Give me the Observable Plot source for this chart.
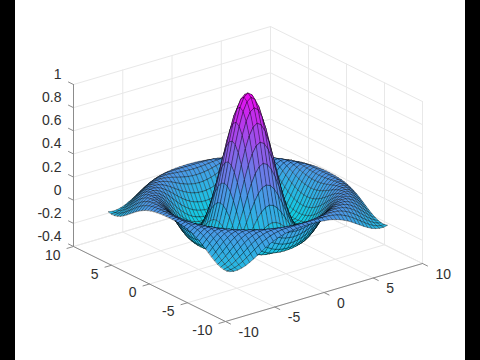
<!DOCTYPE html>
<html>
<head>
<meta charset="utf-8">
<script src="https://cdn.jsdelivr.net/npm/d3@7"></script>
<script src="https://cdn.jsdelivr.net/npm/@observablehq/plot@0.6"></script>
<style>
html,body{margin:0;padding:0;background:#000;width:480px;height:360px;overflow:hidden}
#chart{margin-left:15px;width:450px;height:360px;background:#fff}
svg{display:block}
</style>
</head>
<body>
<div id="chart"></div>
<script>
const xTicks = [-10, -5, 0, 5, 10];
const yTicks = [-10, -5, 0, 5, 10];
const zTicks = [-0.4, -0.2, 0, 0.2, 0.4, 0.6, 0.8, 1];
const gridCoords = [0, .4, .8, 1.2, 1.6, 2, 2.4, 2.8, 3.2, 3.6, 4, 4.4, 4.8, 5.2, 5.6, 6, 6.4, 6.8, 7.2, 7.6, 8];
// Surface heights over one eighth of the (symmetric) mesh: row i, column j <= i.
const surfaceHeights = [
[1],
[.974,.947],
[.897,.872,.800],
[.777,.754,.688,.585],
[.625,.605,.546,.455,.340],
[.455,.437,.387,.311,.214,.109],
[.281,.268,.228,.165,.089,.006,-.073],
[.120,.109,.078,.032,-.026,-.085,-.140,-.184],
[-.018,-.026,-.047,-.080,-.118,-.156,-.189,-.210,-.216],
[-.123,-.127,-.140,-.160,-.181,-.200,-.213,-.216,-.207,-.182],
[-.189,-.191,-.197,-.205,-.212,-.216,-.214,-.201,-.178,-.146,-.103],
[-.216,-.216,-.216,-.216,-.213,-.205,-.191,-.168,-.137,-.099,-.056,-.010],
[-.208,-.207,-.203,-.196,-.186,-.170,-.148,-.119,-.085,-.047,-.006,.035,.071],
[-.170,-.168,-.162,-.152,-.137,-.117,-.092,-.063,-.029,.006,.042,.074,.100,.119],
[-.113,-.111,-.103,-.092,-.076,-.056,-.031,-.004,.026,.055,.081,.104,.120,.128,.126],
[-.047,-.044,-.038,-.027,-.012,.006,.027,.050,.073,.094,.111,.123,.128,.125,.114,.095],
[.018,.020,.026,.034,.047,.061,.077,.093,.107,.119,.126,.128,.124,.112,.093,.069,.040],
[.073,.074,.078,.084,.092,.101,.111,.119,.125,.128,.126,.120,.107,.089,.066,.038,.009,-.020],
[.110,.111,.113,.116,.120,.123,.127,.128,.126,.122,.112,.099,.080,.058,.033,.005,-.021,-.046,-.067],
[.127,.128,.128,.128,.128,.127,.125,.119,.112,.101,.086,.068,.047,.023,-.002,-.026,-.049,-.068,-.082,-.090],
[.124,.123,.122,.120,.116,.112,.105,.096,.084,.069,.052,.032,.010,-.012,-.034,-.054,-.071,-.083,-.090,-.091,-.084]
];

// Oblique 3-D view: data (x, y, z) to the plane that the x and y scales read.
const view = {ox: 247.5, oy: 254.5, xx: 9.85, xy: -2.9, yx: -7.6, yy: -3.75, zy: -115.7, zBase: -0.4};
const px = d => view.ox + view.xx * d.x + view.yx * d.y;
const py = d => view.oy + view.xy * d.x + view.yy * d.y + view.zy * (d.z - view.zBase);

const idx = [...gridCoords.keys()].slice(1).reverse().map(i => -i).concat([...gridCoords.keys()]);
const coord = i => i < 0 ? -gridCoords[-i] : gridCoords[i];
const heightAt = (i, j) => {
  const a = Math.abs(i), b = Math.abs(j);
  return surfaceHeights[Math.max(a, b)][Math.min(a, b)];
};

// Quads in far-to-near order so nearer cells paint over farther ones.
const cells = [];
for (let a = 0; a < idx.length - 1; a++) for (let b = 0; b < idx.length - 1; b++) {
  cells.push({a, b, depth: -.527 * (coord(idx[a]) + coord(idx[a + 1])) - .687 * (coord(idx[b]) + coord(idx[b + 1]))});
}
cells.sort((p, q) => d3.ascending(p.depth, q.depth));
const quadRows = [];
cells.forEach((c, id) => {
  const tone = heightAt(idx[c.a], idx[c.b]);
  [[0, 0], [1, 0], [1, 1], [0, 1]].forEach(([u, v]) => {
    const i = idx[c.a + u], j = idx[c.b + v];
    quadRows.push({id, tone, x: coord(i), y: coord(j), z: heightAt(i, j)});
  });
});

const lo = view.zBase, hi = 1;
const xe = xTicks[0], xE = xTicks[4], ye = yTicks[0], yE = yTicks[4];
const seg = (id, a, b) => [{id, ...a}, {id, ...b}];
const grid = [];
xTicks.forEach((x, k) => {
  grid.push(...seg(`fx${k}`, {x, y: ye, z: lo}, {x, y: yE, z: lo}));
  grid.push(...seg(`wx${k}`, {x, y: yE, z: lo}, {x, y: yE, z: hi}));
});
yTicks.forEach((y, k) => {
  grid.push(...seg(`fy${k}`, {x: xe, y, z: lo}, {x: xE, y, z: lo}));
  grid.push(...seg(`wy${k}`, {x: xE, y, z: lo}, {x: xE, y, z: hi}));
});
zTicks.forEach((z, k) => {
  grid.push(...seg(`ax${k}`, {x: xe, y: yE, z}, {x: xE, y: yE, z}));
  grid.push(...seg(`ay${k}`, {x: xE, y: yE, z}, {x: xE, y: ye, z}));
});

const tickLen = 0.66;
const axes = [
  ...seg("xa", {x: xe, y: ye, z: lo}, {x: xE, y: ye, z: lo}),
  ...seg("ya", {x: xe, y: ye, z: lo}, {x: xe, y: yE, z: lo}),
  ...seg("za", {x: xe, y: yE, z: lo}, {x: xe, y: yE, z: hi})
];
xTicks.forEach((x, k) => axes.push(...seg(`xt${k}`, {x, y: ye, z: lo}, {x, y: ye - tickLen, z: lo})));
yTicks.forEach((y, k) => axes.push(...seg(`yt${k}`, {x: xe, y, z: lo}, {x: xe - tickLen, y, z: lo})));
zTicks.forEach((z, k) => axes.push(...seg(`zt${k}`, {x: xe, y: yE, z}, {x: xe, y: yE + tickLen, z})));

const labelStyle = {x: px, y: py, text: d => String(d.v), fontFamily: "Liberation Sans, Arial, sans-serif", fontSize: 14, fill: "#303030"};

const plot = Plot.plot({
  width: 450, height: 360, margin: 0,
  x: {domain: [15, 465], range: [0, 450], axis: null},
  y: {domain: [0, 360], range: [0, 360], axis: null},
  color: {type: "linear", domain: [-0.217, 1], range: ["#10cde2", "#f005f0"], interpolate: "rgb"},
  style: {background: "#fff"},
  marks: [
    Plot.line(grid, {x: px, y: py, z: "id", stroke: "#e8e8e8", strokeWidth: 1}),
    Plot.line(axes, {x: px, y: py, z: "id", stroke: "#8c8c8c", strokeWidth: 1}),
    Plot.line(quadRows, {x: px, y: py, z: "id", fill: "tone", stroke: "#000", strokeWidth: 0.5, strokeOpacity: 0.7, curve: "linear-closed"}),
    Plot.text(zTicks.map(v => ({v, x: xe, y: yE, z: v})), {...labelStyle, textAnchor: "end", dx: -12, dy: -10}),
    Plot.text(yTicks.map(v => ({v, x: xe, y: v, z: lo})), {...labelStyle, textAnchor: "end", dx: -13, dy: 9}),
    Plot.text(xTicks.map(v => ({v, x: v, y: ye, z: lo})), {...labelStyle, textAnchor: "start", dx: 13, dy: 11})
  ]
});
document.getElementById("chart").appendChild(plot);
</script>
</body>
</html>
